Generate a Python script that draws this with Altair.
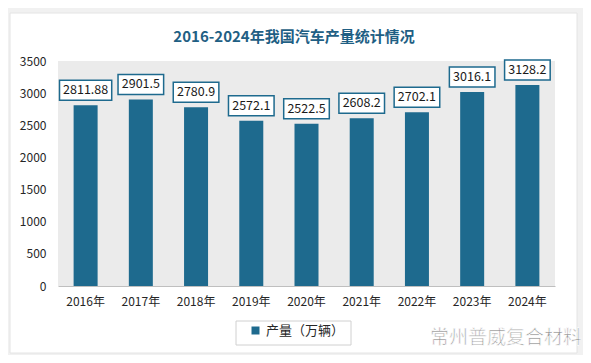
import altair as alt
import pandas as pd

years = ["2016年", "2017年", "2018年", "2019年", "2020年", "2021年", "2022年", "2023年", "2024年"]
output = [2811.88, 2901.5, 2780.9, 2572.1, 2522.5, 2608.2, 2702.1, 3016.1, 3128.2]
series_name = "产量（万辆）"
title_text = "2016-2024年我国汽车产量统计情况"
watermark = "常州普威复合材料"

df = pd.DataFrame({"year": years, "value": output, "series": [series_name] * len(years)})
one = pd.DataFrame({"k": [0]})

TEAL = "#1e6a8e"
FONT = "Noto Sans CJK SC"

x = alt.X("year:N", sort=years, title=None,
          scale=alt.Scale(paddingInner=0, paddingOuter=0),
          axis=alt.Axis(labelAngle=0, ticks=False, domainColor="#bfbfbf", domainWidth=1,
                        labelFontSize=12, labelFont=FONT, labelColor="#262626", labelPadding=10,
                        zindex=1))
y = alt.Y("value:Q", title=None,
          scale=alt.Scale(domain=[0, 3500]),
          axis=alt.Axis(values=list(range(0, 3501, 500)), format="d", grid=False, domain=False,
                        ticks=False, labelFontSize=12, labelFont=FONT, labelColor="#262626",
                        labelPadding=12, zindex=1))

# decorative card and plot background
card = alt.Chart(one).mark_rect(fill="white", stroke="#e4e4e4", strokeWidth=1).encode(
    x=alt.value(-48), x2=alt.value(519), y=alt.value(-48), y2=alt.value(292))
plotbg = alt.Chart(one).mark_rect(fill="#ebebeb").encode(
    x=alt.value(0), x2=alt.value(497), y=alt.value(0), y2=alt.value(225))
legbox = alt.Chart(one).mark_rect(fill="white", stroke="#d0d0d0", strokeWidth=1).encode(
    x=alt.value(178), x2=alt.value(293), y=alt.value(260), y2=alt.value(284))

title = alt.Chart(pd.DataFrame({"t": [title_text]})).mark_text(
    align="center", baseline="middle", fontSize=15, font=FONT, fontWeight="bold",
    color="#1f5f84"
).encode(x=alt.value(236), y=alt.value(-24), text="t:N")

base = alt.Chart(df)

bars = base.mark_bar(size=24, color=TEAL).encode(
    x=x, y=y,
    color=alt.Color("series:N", scale=alt.Scale(range=[TEAL]),
                    legend=alt.Legend(title=None, orient="none", legendX=191, legendY=263,
                                      symbolType="square", symbolSize=64, symbolStrokeWidth=0,
                                      labelFontSize=13, labelFont=FONT, labelColor="#262626",
                                      padding=0, zindex=1))
)

boxes = base.transform_calculate(
    bw="length(toString(datum.value)) * 6.6 + 6"
).mark_bar(fill="white", stroke=TEAL, strokeWidth=1.5, yOffset=-25, y2Offset=-5).encode(
    x=x, y=y, y2="value:Q",
    size=alt.Size("bw:Q", scale=None, legend=None)
)

labels = base.transform_calculate(
    lab="toString(datum.value)"
).mark_text(dy=-15, fontSize=12.5, font=FONT, color="#1a1a1a").encode(
    x=x, y=y, text="lab:N"
)

wm = alt.Chart(pd.DataFrame({"t": [watermark]})).mark_text(
    align="left", baseline="middle", fontSize=19, font=FONT,
    color="#8f8f8f", stroke="white", strokeWidth=0.7
).encode(x=alt.value(372), y=alt.value(277), text="t:N")

chart = alt.layer(card, plotbg, legbox, title, bars, boxes, labels, wm).properties(
    width=497, height=225,
    autosize=alt.AutoSizeParams(type="none"),
    padding={"left": 50, "top": 53, "right": 28, "bottom": 69},
    background="#f1f1f1",
).configure_view(fill=None, stroke=None)

chart.save("out.html", embed_options={"renderer": "svg", "actions": False})
